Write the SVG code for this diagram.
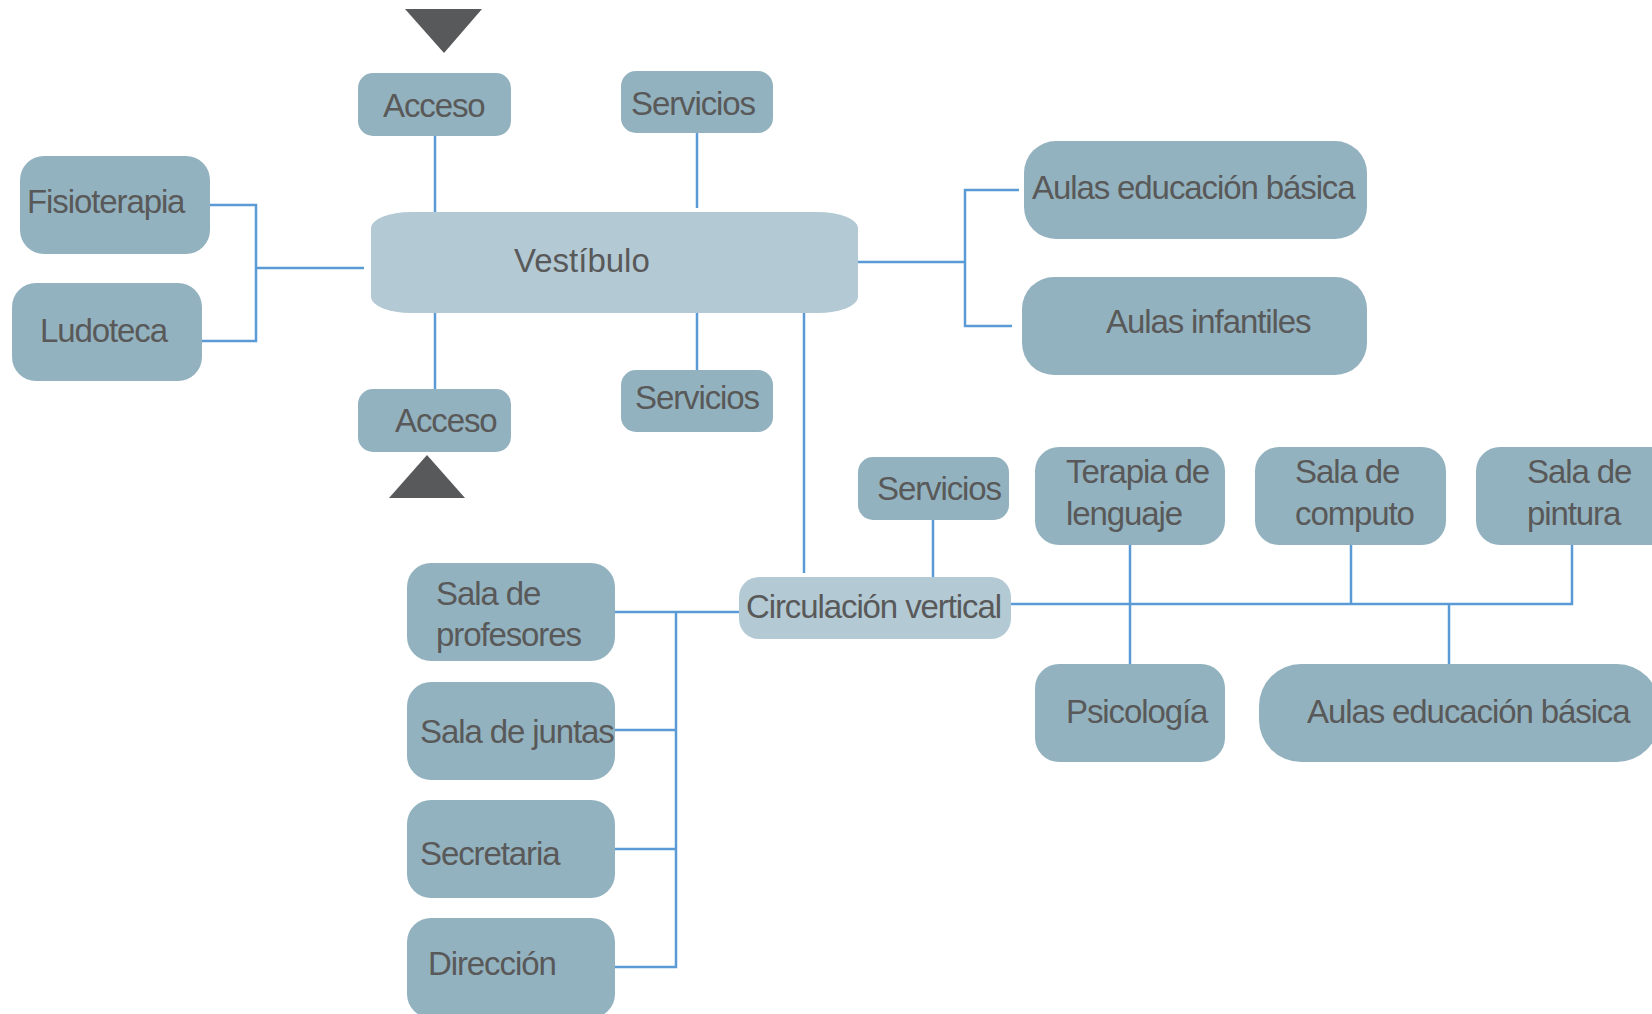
<svg xmlns="http://www.w3.org/2000/svg" width="1652" height="1014" viewBox="0 0 1652 1014">
<style>
.n{fill:#93B2BF}
.l{fill:#B3CAD5}
.t{font-family:"Liberation Sans",Arial,sans-serif;font-size:33px;fill:#595959;letter-spacing:-1.1px}
.tv{font-family:"Liberation Sans",Arial,sans-serif;font-size:33px;fill:#595959}
.c{fill:none;stroke:#5B9BD5;stroke-width:2.5}
.tri{fill:#58595B}
</style>
<rect width="1652" height="1014" fill="#FFFFFF"/>
<g id="connectors">
<path class="c" d="M435 135V212"/>
<path class="c" d="M697 133V208"/>
<path class="c" d="M435 312V389"/>
<path class="c" d="M697 312V370"/>
<path class="c" d="M209 205H256V341H202M256 268H364"/>
<path class="c" d="M857 262H965M1019 190H965V326H1012"/>
<path class="c" d="M804 312V573"/>
<path class="c" d="M933 520V577"/>
<path class="c" d="M615 612H739M676 612V967H615M615 730H676M615 849H676"/>
<path class="c" d="M1011 604H1572V545M1130 545V664M1351 545V604M1449 604V664"/>
</g>
<g id="entrada-superior"><polygon class="tri" points="405,9 482,9 444,53"/></g>
<g id="entrada-inferior"><polygon class="tri" points="389,498 465,498 427,455"/></g>
<g id="acceso-superior"><rect class="n" x="358" y="73" width="153" height="63" rx="15"/><text class="t" x="383" y="117">Acceso</text></g>
<g id="servicios-superior"><rect class="n" x="621" y="71" width="152" height="62" rx="15"/><text class="t" x="631" y="115">Servicios</text></g>
<g id="fisioterapia"><rect class="n" x="20" y="156" width="190" height="98" rx="24"/><text class="t" x="27" y="213">Fisioterapia</text></g>
<g id="ludoteca"><rect class="n" x="12" y="283" width="190" height="98" rx="24"/><text class="t" x="40" y="342">Ludoteca</text></g>
<g id="vestibulo"><rect class="l" x="371" y="212" width="487" height="101" rx="40" ry="16"/><text class="tv" x="514" y="272">Vestíbulo</text></g>
<g id="acceso-inferior"><rect class="n" x="358" y="389" width="153" height="63" rx="15"/><text class="t" x="395" y="432">Acceso</text></g>
<g id="servicios-medio"><rect class="n" x="621" y="370" width="152" height="62" rx="15"/><text class="t" x="635" y="409">Servicios</text></g>
<g id="aulas-educacion-basica-1"><rect class="n" x="1024" y="141" width="343" height="98" rx="32"/><text class="t" x="1032" y="199">Aulas educación básica</text></g>
<g id="aulas-infantiles"><rect class="n" x="1022" y="277" width="345" height="98" rx="32"/><text class="t" x="1106" y="333">Aulas infantiles</text></g>
<g id="servicios-derecha"><rect class="n" x="858" y="457" width="151" height="63" rx="15"/><text class="t" x="877" y="500">Servicios</text></g>
<g id="circulacion-vertical"><rect class="l" x="739" y="577" width="272" height="62" rx="20"/><text class="t" x="746" y="618">Circulación vertical</text></g>
<g id="sala-profesores"><rect class="n" x="407" y="563" width="208" height="98" rx="24"/><text class="t" x="436" y="605">Sala de</text><text class="t" x="436" y="646">profesores</text></g>
<g id="sala-juntas"><rect class="n" x="407" y="682" width="208" height="98" rx="24"/><text class="t" x="420" y="743">Sala de juntas</text></g>
<g id="secretaria"><rect class="n" x="407" y="800" width="208" height="98" rx="24"/><text class="t" x="420" y="865">Secretaria</text></g>
<g id="direccion"><rect class="n" x="407" y="918" width="208" height="100" rx="24"/><text class="t" x="428" y="975">Dirección</text></g>
<g id="terapia-lenguaje"><rect class="n" x="1035" y="447" width="190" height="98" rx="24"/><text class="t" x="1066" y="483">Terapia de</text><text class="t" x="1066" y="525">lenguaje</text></g>
<g id="sala-computo"><rect class="n" x="1255" y="447" width="191" height="98" rx="24"/><text class="t" x="1295" y="483">Sala de</text><text class="t" x="1295" y="525">computo</text></g>
<g id="sala-pintura"><rect class="n" x="1476" y="447" width="210" height="98" rx="24"/><text class="t" x="1527" y="483">Sala de</text><text class="t" x="1527" y="525">pintura</text></g>
<g id="psicologia"><rect class="n" x="1035" y="664" width="190" height="98" rx="24"/><text class="t" x="1066" y="723">Psicología</text></g>
<g id="aulas-educacion-basica-2"><rect class="n" x="1259" y="664" width="400" height="98" rx="42"/><text class="t" x="1307" y="723">Aulas educación básica</text></g>
</svg>
